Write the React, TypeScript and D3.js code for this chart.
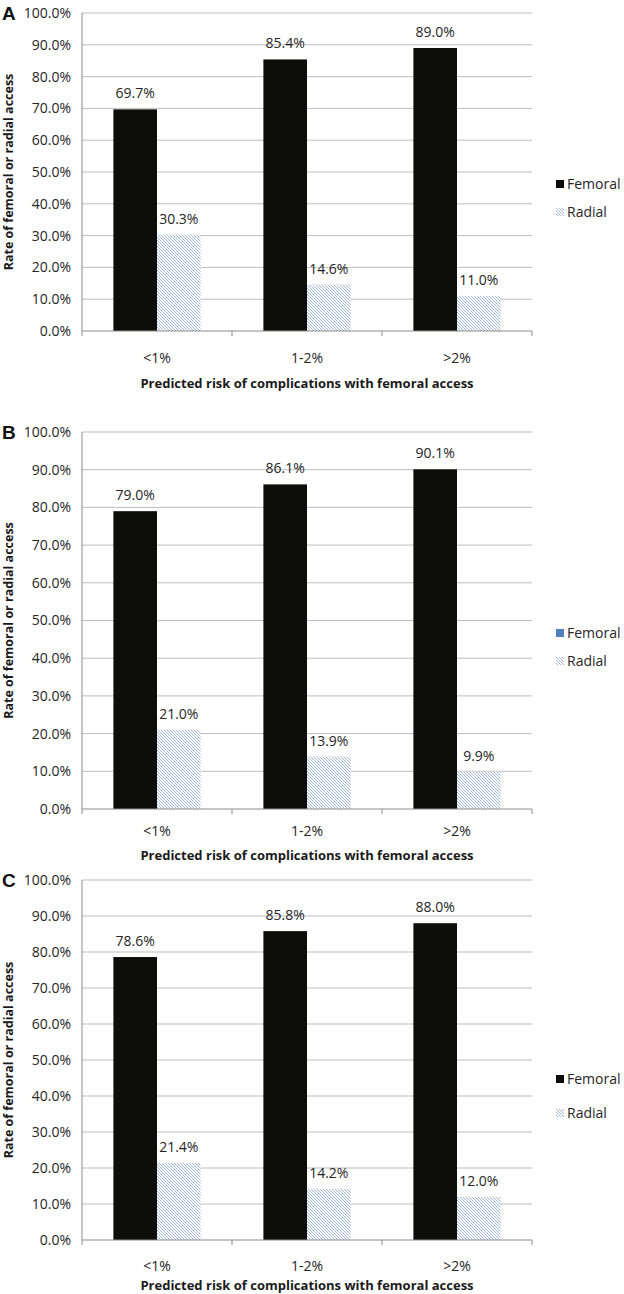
import React, { useEffect, useRef } from 'react';
import * as d3 from 'd3';

const categories = ['<1%', '1-2%', '>2%'];
const seriesNames = ['Femoral', 'Radial'];

const femoralA = [69.7, 85.4, 89.0];
const radialA = [30.3, 14.6, 11.0];
const femoralB = [79.0, 86.1, 90.1];
const radialB = [21.0, 13.9, 9.9];
const femoralC = [78.6, 85.8, 88.0];
const radialC = [21.4, 14.2, 12.0];

const yTicks = [0, 10, 20, 30, 40, 50, 60, 70, 80, 90, 100];

const panels = [
  { letter: 'A', femoral: femoralA, radial: radialA, top: 13, bottom: 331, labelOff: 27, titleOff: 52, legendY: 184, legendGap: 28, legendColor: '#0d0d0b' },
  { letter: 'B', femoral: femoralB, radial: radialB, top: 432, bottom: 809, labelOff: 22, titleOff: 46, legendY: 633, legendGap: 28, legendColor: '#4f81bd' },
  { letter: 'C', femoral: femoralC, radial: radialC, top: 880, bottom: 1240, labelOff: 26, titleOff: 45, legendY: 1079, legendGap: 34, legendColor: '#0d0d0b' },
];

const WIDTH = 624;
const HEIGHT = 1294;
const FONT = '"Open Sans", "Liberation Sans", sans-serif';

const App = () => {
  const ref = useRef<SVGSVGElement>(null);

  useEffect(() => {
    const svg = d3.select(ref.current);
    svg.selectAll('*').remove();

    // hatch pattern for the radial bars
    const defs = svg.append('defs');
    const pattern = defs.append('pattern')
      .attr('id', 'hatch')
      .attr('patternUnits', 'userSpaceOnUse')
      .attr('width', 3)
      .attr('height', 3);
    pattern.append('rect').attr('width', 3).attr('height', 3).attr('fill', '#ffffff');
    pattern.append('path')
      .attr('d', 'M-1,-1 L4,4 M-1,2 L1,4 M2,-1 L4,1')
      .attr('stroke', '#9fb6d8')
      .attr('stroke-width', 1);

    const x = d3.scaleBand().domain(categories).range([82, 532]);
    const inner = d3.scaleBand().domain(seriesNames).range([0, x.bandwidth()]).paddingOuter(0.72);

    panels.forEach((p) => {
      const g = svg.append('g');
      const y = d3.scaleLinear().domain([0, 100]).range([p.bottom, p.top]);

      // gridlines
      g.selectAll('.grid')
        .data(yTicks.filter((t) => t > 0))
        .join('line')
        .attr('x1', 82)
        .attr('x2', 532)
        .attr('y1', (d) => y(d))
        .attr('y2', (d) => y(d))
        .attr('stroke', '#bdbdbd')
        .attr('stroke-width', 1);

      // y axis line
      g.append('line')
        .attr('x1', 82).attr('x2', 82)
        .attr('y1', p.top).attr('y2', p.bottom)
        .attr('stroke', '#8c8c8c');

      // y tick labels
      g.selectAll('.ytick')
        .data(yTicks)
        .join('text')
        .attr('x', 71)
        .attr('y', (d) => y(d))
        .attr('dy', '0.35em')
        .attr('text-anchor', 'end')
        .attr('font-family', FONT)
        .attr('font-size', 14)
        .attr('fill', '#262626')
        .text((d) => d3.format('.1f')(d) + '%');

      // bars
      const rows = categories.map((c, i) => ({ cat: c, values: [p.femoral[i], p.radial[i]] }));
      const groups = g.selectAll('.cat')
        .data(rows)
        .join('g')
        .attr('transform', (d) => `translate(${x(d.cat)},0)`);

      groups.selectAll('rect')
        .data((d) => d.values.map((v, j) => ({ key: seriesNames[j], v })))
        .join('rect')
        .attr('x', (d) => inner(d.key)!)
        .attr('width', inner.bandwidth())
        .attr('y', (d) => y(d.v))
        .attr('height', (d) => y(0) - y(d.v))
        .attr('fill', (d) => (d.key === 'Femoral' ? '#0d0d0b' : 'url(#hatch)'));

      groups.selectAll('text')
        .data((d) => d.values.map((v, j) => ({ key: seriesNames[j], v })))
        .join('text')
        .attr('x', (d) => inner(d.key)! + inner.bandwidth() / 2)
        .attr('y', (d) => y(d.v) - 11)
        .attr('text-anchor', 'middle')
        .attr('font-family', FONT)
        .attr('font-size', 14)
        .attr('fill', '#262626')
        .text((d) => d3.format('.1f')(d.v) + '%');

      // x axis
      g.append('line')
        .attr('x1', 82).attr('x2', 532)
        .attr('y1', p.bottom).attr('y2', p.bottom)
        .attr('stroke', '#8c8c8c');
      const edges = categories.map((c) => x(c)!).concat([x.range()[1]]);
      g.selectAll('.xtick')
        .data(edges)
        .join('line')
        .attr('x1', (d) => d).attr('x2', (d) => d)
        .attr('y1', p.bottom).attr('y2', p.bottom + 5)
        .attr('stroke', '#8c8c8c');

      g.selectAll('.xlabel')
        .data(categories)
        .join('text')
        .attr('x', (d) => x(d)! + x.bandwidth() / 2)
        .attr('y', p.bottom + p.labelOff)
        .attr('dy', '0.35em')
        .attr('text-anchor', 'middle')
        .attr('font-family', FONT)
        .attr('font-size', 14)
        .attr('fill', '#262626')
        .text((d) => d);

      // axis titles
      g.append('text')
        .attr('x', 307)
        .attr('y', p.bottom + p.titleOff)
        .attr('dy', '0.35em')
        .attr('text-anchor', 'middle')
        .attr('font-family', FONT)
        .attr('font-weight', 'bold')
        .attr('font-size', 13)
        .attr('fill', '#1a1a1a')
        .text('Predicted risk of complications with femoral access');

      g.append('text')
        .attr('transform', `translate(9,${(p.top + p.bottom) / 2}) rotate(-90)`)
        .attr('dy', '0.35em')
        .attr('text-anchor', 'middle')
        .attr('font-family', FONT)
        .attr('font-weight', 'bold')
        .attr('font-size', 12.5)
        .attr('fill', '#1a1a1a')
        .text('Rate of femoral or radial access');

      // panel letter
      g.append('text')
        .attr('x', 2)
        .attr('y', p.top)
        .attr('dy', '0.36em')
        .attr('font-family', '"Liberation Sans", Arial, sans-serif')
        .attr('font-weight', 'bold')
        .attr('font-size', 19)
        .attr('fill', '#111')
        .text(p.letter);

      // legend
      const legend = g.append('g').attr('transform', `translate(556,${p.legendY})`);
      seriesNames.forEach((s, i) => {
        const ly = i * p.legendGap;
        legend.append('rect')
          .attr('x', 0).attr('y', ly - 4)
          .attr('width', 8).attr('height', 8)
          .attr('fill', s === 'Femoral' ? p.legendColor : 'url(#hatch)');
        legend.append('text')
          .attr('x', 11).attr('y', ly)
          .attr('dy', '0.35em')
          .attr('font-family', FONT)
          .attr('font-size', 14)
          .attr('fill', '#262626')
          .text(s);
      });
    });
  }, []);

  return (
    <div style={{ position: 'absolute', left: 0, top: 0, background: '#fff' }}>
      <svg ref={ref} width={WIDTH} height={HEIGHT} />
    </div>
  );
};

export default App;
